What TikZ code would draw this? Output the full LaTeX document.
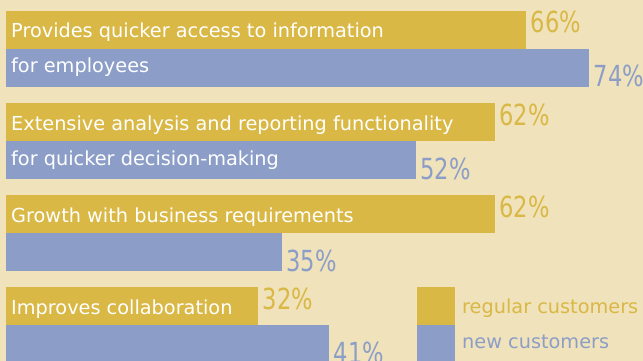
\documentclass[tikz,border=0pt]{standalone}
\usepackage{fontspec}
\setmainfont{DejaVu Sans}
\newfontfamily\pctfont[FakeStretch=0.78]{DejaVu Sans}
\usetikzlibrary{calc}
\definecolor{bgcream}{HTML}{F0E2BA}
\definecolor{regcol}{HTML}{D9B845}
\definecolor{newcol}{HTML}{8C9EC8}
\newcommand{\unitpct}{7.88pt}

\begin{document}
\begin{tikzpicture}[x=1pt, y=-1pt]

\tikzstyle{regbar}=[anchor=north west, fill=regcol, inner sep=0pt, outer sep=0pt, minimum height=38pt]
\tikzstyle{newbar}=[regbar, fill=newcol]
\tikzstyle{barlabel}=[anchor=base west, inner sep=0pt, text=white, font=\fontsize{19.3}{23}\selectfont]
\tikzstyle{regpct}=[anchor=base west, inner sep=0pt, text=regcol, font=\pctfont\fontsize{29}{34}\selectfont]
\tikzstyle{newpct}=[regpct, text=newcol]

\useasboundingbox (0,0) rectangle (643,361);
\fill[bgcream] (0,0) rectangle (643,361);
\clip (0,0) rectangle (643,361);

% bars
\node (reg1) [regbar, minimum width=66*\unitpct] at (6,11) {};
\node (new1) [newbar, minimum width=74*\unitpct] at (reg1.south west) {};
\node (reg2) [regbar, minimum width=62*\unitpct] at (6,103) {};
\node (new2) [newbar, minimum width=52*\unitpct] at (reg2.south west) {};
\node (reg3) [regbar, minimum width=62*\unitpct] at (6,195) {};
\node (new3) [newbar, minimum width=35*\unitpct] at (reg3.south west) {};
\node (reg4) [regbar, minimum width=32*\unitpct] at (6,287) {};
\node (new4) [newbar, minimum width=41*\unitpct] at (reg4.south west) {};

% texts in the bars
\node (lab1a) [barlabel] at ($(reg1.north west)+(5,27)$) {Provides quicker access to information};
\node (lab1b) [barlabel] at ($(new1.north west)+(5,24)$) {for employees};
\node (lab2a) [barlabel] at ($(reg2.north west)+(5,27)$) {Extensive analysis and reporting functionality};
\node (lab2b) [barlabel] at ($(new2.north west)+(5,24)$) {for quicker decision-making};
\node (lab3a) [barlabel] at ($(reg3.north west)+(5,27)$) {Growth with business requirements};
\node (lab4a) [barlabel] at ($(reg4.north west)+(5,27)$) {Improves collaboration};

% values
\node (val1a) [regpct] at ($(reg1.north east)+(4.5,22)$) {66\%};
\node (val1b) [newpct] at ($(new1.south east)+(4.5,0)$) {74\%};
\node (val2a) [regpct] at ($(reg2.north east)+(4.5,22)$) {62\%};
\node (val2b) [newpct] at ($(new2.south east)+(4.5,0)$) {52\%};
\node (val3a) [regpct] at ($(reg3.north east)+(4.5,22)$) {62\%};
\node (val3b) [newpct] at ($(new3.south east)+(4.5,0)$) {35\%};
\node (val4a) [regpct] at ($(reg4.north east)+(4.5,22)$) {32\%};
\node (val4b) [newpct] at ($(new4.south east)+(4.5,0)$) {41\%};

% legend
\node (keyreg) [regbar, minimum width=38pt] at (417,287) {};
\node (keynew) [newbar, minimum width=38pt] at (keyreg.south west) {};
\node (keyreglab) [barlabel, text=regcol] at ($(keyreg.north east)+(7,26)$) {regular customers};
\node (keynewlab) [barlabel, text=newcol] at ($(keynew.north east)+(7,23)$) {new customers};

\end{tikzpicture}
\end{document}
